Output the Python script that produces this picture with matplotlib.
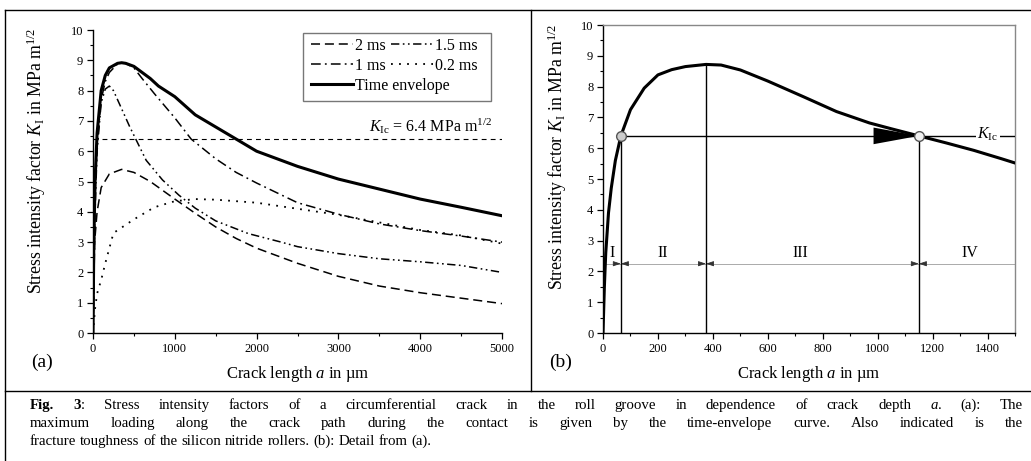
import matplotlib
matplotlib.use("Agg")
import matplotlib.pyplot as plt
from matplotlib.lines import Line2D
from matplotlib.patches import Rectangle
from matplotlib.ticker import MultipleLocator

plt.rcParams['font.family'] = ['Liberation Serif', 'DejaVu Serif']
plt.rcParams['mathtext.fontset'] = 'custom'
plt.rcParams['mathtext.rm'] = 'Liberation Serif'
plt.rcParams['mathtext.it'] = 'Liberation Serif:italic'
plt.rcParams['mathtext.bf'] = 'Liberation Serif:bold'
plt.rcParams['lines.scale_dashes'] = False

# ---------------- data: panel (a) ----------------
a_2ms = [0, 20, 50, 100, 200, 350, 500, 700, 1000, 1250, 1500, 1750, 2000, 2500, 3000, 3500, 4000, 4500, 5000]
k_2ms = [0, 3.0, 4.0, 4.8, 5.25, 5.4, 5.3, 5.0, 4.42, 3.95, 3.5, 3.12, 2.8, 2.3, 1.87, 1.55, 1.33, 1.15, 0.97]

a_15ms = [0, 25, 50, 100, 150, 200, 250, 350, 450, 650, 850, 1050, 1250, 1500, 1900, 2300, 2500, 3000, 3500, 4000, 4500, 5000]
k_15ms = [0, 4.0, 6.0, 7.6, 8.05, 8.15, 8.0, 7.4, 6.8, 5.7, 5.05, 4.55, 4.12, 3.7, 3.28, 3.0, 2.85, 2.62, 2.45, 2.35, 2.23, 2.0]

a_1ms = [0, 25, 50, 100, 150, 200, 300, 350, 400, 500, 600, 750, 1000, 1200, 1500, 1750, 2000, 2500, 3000, 3500, 4000, 4500, 5000]
k_1ms = [0, 4.5, 6.2, 7.7, 8.3, 8.6, 8.88, 8.92, 8.9, 8.75, 8.4, 7.9, 7.1, 6.4, 5.75, 5.3, 4.95, 4.3, 3.92, 3.6, 3.38, 3.2, 3.0]

a_02ms = [0, 25, 50, 100, 150, 250, 500, 750, 1000, 1250, 1500, 2000, 2500, 3000, 3500, 4000, 4500, 5000]
k_02ms = [0, 0.8, 1.3, 1.75, 2.3, 3.3, 3.75, 4.15, 4.35, 4.42, 4.4, 4.3, 4.1, 3.9, 3.65, 3.4, 3.22, 2.95]

a_env = [0, 10, 25, 50, 100, 150, 200, 300, 350, 400, 500, 700, 800, 1000, 1250, 1500, 1750, 2000, 2500, 3000, 3500, 4000, 4500, 5000]
k_env = [0, 3.0, 5.0, 6.6, 8.0, 8.5, 8.75, 8.9, 8.92, 8.9, 8.8, 8.4, 8.15, 7.8, 7.2, 6.8, 6.4, 6.0, 5.5, 5.08, 4.75, 4.42, 4.15, 3.87]

K_IC = 6.4

# ---------------- data: panel (b) ----------------
a_b = [0, 5, 10, 20, 30, 45, 65, 100, 150, 200, 250, 300, 375, 430, 500, 600, 730, 850, 970, 1050, 1150, 1250, 1350, 1450, 1500]
k_b = [0, 1.5, 2.6, 3.9, 4.7, 5.6, 6.4, 7.25, 7.95, 8.38, 8.55, 8.65, 8.72, 8.7, 8.54, 8.18, 7.67, 7.19, 6.82, 6.63, 6.4, 6.17, 5.93, 5.66, 5.52]
bounds_b = [65, 375, 1150]
kpeak_b = 8.72
region_labels = ['I', 'II', 'III', 'IV']
region_x = [34, 219, 717, 1336]
region_y = 2.25

W, H = 1031, 461
fig = plt.figure(figsize=(W / 100, H / 100), dpi=100)

def fx(px):
    return px / W

def fy(py):
    return 1 - py / H

LABEL_FS = 12
YLABEL_FS = 12.8
TICK_FS = 9
YLABEL = r'Stress intensity factor $K_{\mathrm{I}}$ in MPa m$^{1/2}$'

# ---------------- panel (a) ----------------
ax1 = fig.add_axes([fx(93), fy(333), (502 - 93) / W, (333 - 30) / H])
lw = 1.1
l2, = ax1.plot(a_2ms, k_2ms, color='k', lw=lw, dashes=(6.5, 3.5), label='2 ms')
l15, = ax1.plot(a_15ms, k_15ms, color='k', lw=lw, dashes=(6, 2.5, 1.2, 2.5, 1.2, 2.5), label='1.5 ms')
l1, = ax1.plot(a_1ms, k_1ms, color='k', lw=lw, dashes=(7, 3, 1.3, 3), label='1 ms')
l02, = ax1.plot(a_02ms, k_02ms, color='k', lw=lw + 0.2, dashes=(1.3, 4.5), label='0.2 ms')
lenv, = ax1.plot(a_env, k_env, color='k', lw=2.2, label='Time envelope')
ax1.axhline(K_IC, color='k', lw=0.8, dashes=(3.5, 3))
ax1.text(4880, K_IC + 0.1, r'$K_{\mathrm{Ic}}$ = 6.4 MPa m$^{1/2}$', ha='right', va='bottom', fontsize=11.5)

ax1.set_xlim(0, 5000)
ax1.set_ylim(0, 10)
ax1.xaxis.set_major_locator(MultipleLocator(1000))
ax1.xaxis.set_minor_locator(MultipleLocator(500))
ax1.yaxis.set_major_locator(MultipleLocator(1))
ax1.yaxis.set_minor_locator(MultipleLocator(0.5))
for s in ['top', 'right']:
    ax1.spines[s].set_visible(False)
ax1.set_xlabel(r'Crack length $a$ in µm', fontsize=LABEL_FS, labelpad=7)
ax1.set_ylabel(YLABEL, fontsize=YLABEL_FS)
ax1.yaxis.set_label_coords((48 - 93) / 409, (333 - 161) / 303)

# legend: two columns for the time steps, one row for the envelope, shared frame
px2ax = ax1.transAxes.inverted()
def axpt(px, py):
    return px2ax.transform(fig.transFigure.transform((fx(px), fy(py))))

frame_ll = axpt(303, 101)
frame_ur = axpt(491, 33)
ax1.add_patch(Rectangle(frame_ll, frame_ur[0] - frame_ll[0], frame_ur[1] - frame_ll[1],
                        transform=ax1.transAxes, facecolor='white', edgecolor='#777777',
                        lw=1.0, zorder=6))
leg_kw = dict(frameon=False, fontsize=11.5, handlelength=2.6, handletextpad=0.15,
              columnspacing=0.35, labelspacing=0.25, borderpad=0, borderaxespad=0, loc='upper left')
leg1 = ax1.legend(handles=[l2, l1, l15, l02], ncol=2, bbox_to_anchor=axpt(311, 38), **leg_kw)
leg1.set_zorder(7)
ax1.add_artist(leg1)
leg2 = ax1.legend(handles=[lenv], bbox_to_anchor=axpt(311, 78), **leg_kw)
leg2.set_zorder(7)

# ---------------- panel (b) ----------------
ax2 = fig.add_axes([fx(603), fy(333), (1015 - 603) / W, (333 - 25) / H])
ax2.plot(a_b, k_b, color='k', lw=2.2, zorder=4)
ax2.set_xlim(0, 1500)
ax2.set_ylim(0, 10)
ax2.xaxis.set_major_locator(MultipleLocator(200))
ax2.xaxis.set_minor_locator(MultipleLocator(100))
ax2.yaxis.set_major_locator(MultipleLocator(1))
ax2.yaxis.set_minor_locator(MultipleLocator(0.5))
for s in ['top', 'right']:
    ax2.spines[s].set_color('#888888')
ax2.set_xlabel(r'Crack length $a$ in µm', fontsize=LABEL_FS, labelpad=7)
ax2.set_ylabel(YLABEL, fontsize=YLABEL_FS)
ax2.yaxis.set_label_coords((569 - 603) / 412, (333 - 157) / 308)

# construction lines
ax2.plot([bounds_b[0], bounds_b[0]], [0, K_IC], color='k', lw=1.0, zorder=3)
ax2.plot([bounds_b[1], bounds_b[1]], [0, kpeak_b], color='k', lw=1.0, zorder=3)
ax2.plot([bounds_b[2], bounds_b[2]], [0, K_IC], color='k', lw=1.0, zorder=3)
ax2.plot([bounds_b[0], 1500], [K_IC, K_IC], color='k', lw=1.0, zorder=3)
ax2.fill([985, bounds_b[2], 985], [K_IC - 0.27, K_IC, K_IC + 0.27], color='k', zorder=5, lw=0)
ax2.plot([bounds_b[0]], [K_IC], 'o', ms=7, mfc='#cccccc', mec='#555555', mew=1.0, zorder=6)
ax2.plot([bounds_b[2]], [K_IC], 'o', ms=7, mfc='#f0f0f0', mec='#555555', mew=1.0, zorder=6)
ax2.text(1400, K_IC + 0.05, r'$K_{\mathrm{Ic}}$', ha='center', va='center', fontsize=11.5,
         bbox=dict(facecolor='white', edgecolor='none', pad=1.0), zorder=7)

# region line + arrows
ax2.plot([0, 1500], [region_y, region_y], color='#aaaaaa', lw=0.7, zorder=2)
for b in bounds_b:
    for d in (-25, 25):
        ax2.annotate('', xy=(b, region_y), xytext=(b + d, region_y),
                     arrowprops=dict(arrowstyle='-|>,head_length=0.45,head_width=0.15',
                                     color='#333333', lw=0.6, shrinkA=0, shrinkB=0), zorder=3)
for lab, x in zip(region_labels, region_x):
    ax2.text(x, region_y + 0.08, lab, ha='center', va='bottom', fontsize=11.5)

for ax in (ax1, ax2):
    ax.tick_params(which='major', direction='out', length=4, width=0.9, labelsize=TICK_FS, pad=3)
    ax.tick_params(which='minor', direction='out', length=2, width=0.8)
    for s in ax.spines.values():
        s.set_linewidth(1.0)

# panel tags
fig.text(fx(31), fy(362), '(a)', fontsize=14, ha='left', va='center')
fig.text(fx(549), fy(362), '(b)', fontsize=14, ha='left', va='center')

# frame lines
def fline(x0, y0, x1, y1):
    fig.add_artist(Line2D([fx(x0), fx(x1)], [fy(y0), fy(y1)], color='k', lw=1.0,
                          transform=fig.transFigure))

fline(5, 10, W, 10)
fline(5, 10, 5, H)
fline(531, 10, 531, 391)
fline(5, 391, W, 391)

# caption with justified lines
FS_CAP = 10.7
R = fig.canvas.get_renderer()
N, B, I = ('normal', 'normal'), ('bold', 'normal'), ('normal', 'italic')

def tok(s, st=N):
    return [(s, st)]

line1 = [[('Fig.', B)], [('3', B), (':', N)]] + [tok(w) for w in
         'Stress intensity factors of a circumferential crack in the roll groove in dependence of crack depth'.split()] + \
        [[('a', I), ('.', N)], tok('(a):'), tok('The')]
line2 = [tok(w) for w in
         'maximum loading along the crack path during the contact is given by the time-envelope curve. Also indicated is the'.split()]
line3 = [tok(w) for w in 'fracture toughness of the silicon nitride rollers. (b): Detail from (a).'.split()]

def draw_line(tokens, ybase, x0, x1, justify):
    items = []
    for t in tokens:
        pieces = []
        for s, (wt, st) in t:
            txt = fig.text(0, fy(ybase), s, fontsize=FS_CAP, fontweight=wt, fontstyle=st,
                           ha='left', va='baseline')
            w = txt.get_window_extent(R).width
            pieces.append((txt, w))
        items.append(pieces)
    widths = [sum(w for _, w in p) for p in items]
    total = sum(widths)
    if justify:
        gap = (x1 - x0 - total) / (len(items) - 1)
    else:
        sp = fig.text(0, 0, 'a a', fontsize=FS_CAP)
        sp2 = fig.text(0, 0, 'aa', fontsize=FS_CAP)
        gap = sp.get_window_extent(R).width - sp2.get_window_extent(R).width
        sp.remove(); sp2.remove()
    x = x0
    for pieces in items:
        for txt, w in pieces:
            txt.set_x(fx(x))
            x += w
        x += gap

draw_line(line1, 409, 30, 1023, True)
draw_line(line2, 427, 30, 1023, True)
draw_line(line3, 445, 30, 1023, False)

fig.savefig('out.png', dpi=100)
